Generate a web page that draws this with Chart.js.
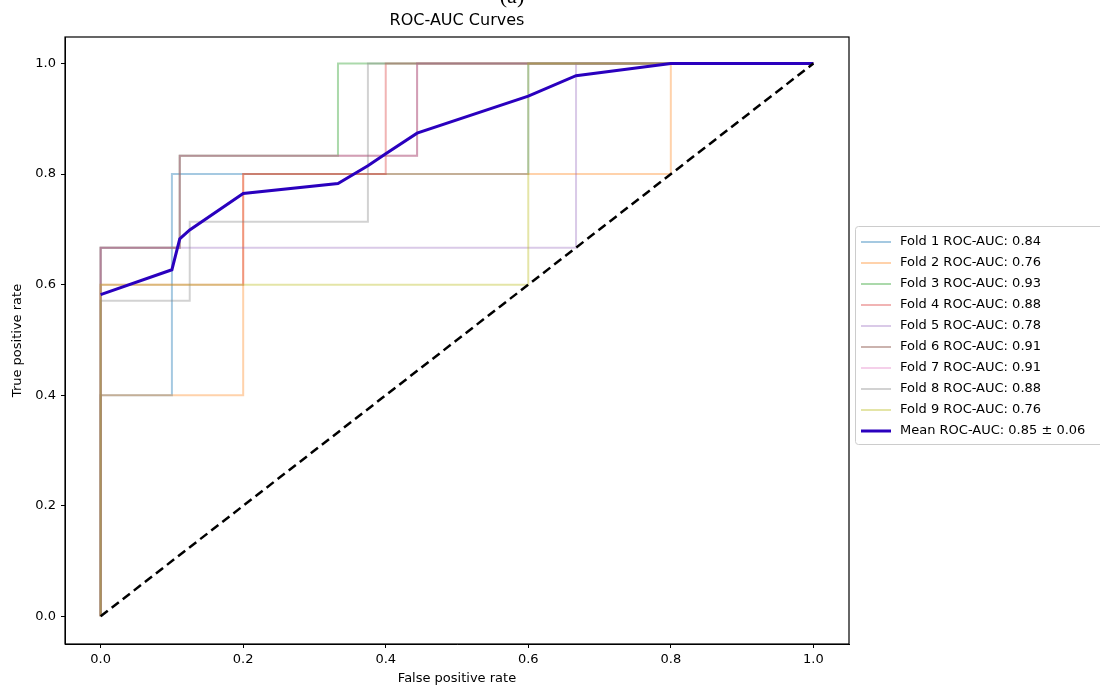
<!DOCTYPE html>
<html>
<head>
<meta charset="utf-8">
<script src="https://cdn.jsdelivr.net/npm/chart.js@4.4.1/dist/chart.umd.min.js"></script>
<style>
  html, body { margin: 0; padding: 0; background: #fff; }
</style>
</head>
<body>
<canvas id="roc" width="1100" height="689"></canvas>
<script>
// fold curves (false positive rate / true positive rate)
const fpr1 = [0, 0, 0.1, 0.1, 0.6, 0.6, 1];
const tpr1 = [0, 0.4, 0.4, 0.8, 0.8, 1, 1];
const fpr2 = [0, 0, 0.2, 0.2, 0.8, 0.8, 1];
const tpr2 = [0, 0.4, 0.4, 0.8, 0.8, 1, 1];
const fpr3 = [0, 0, 0.111, 0.111, 0.333, 0.333, 1];
const tpr3 = [0, 0.667, 0.667, 0.833, 0.833, 1, 1];
const fpr4 = [0, 0, 0.2, 0.2, 0.4, 0.4, 1];
const tpr4 = [0, 0.6, 0.6, 0.8, 0.8, 1, 1];
const fpr5 = [0, 0, 0.667, 0.667, 1];
const tpr5 = [0, 0.667, 0.667, 1, 1];
const fpr6 = [0, 0, 0.111, 0.111, 0.444, 0.444, 1];
const tpr6 = [0, 0.667, 0.667, 0.833, 0.833, 1, 1];
const fpr7 = [0, 0, 0.111, 0.111, 0.444, 0.444, 1];
const tpr7 = [0, 0.667, 0.667, 0.833, 0.833, 1, 1];
const fpr8 = [0, 0, 0.125, 0.125, 0.375, 0.375, 1];
const tpr8 = [0, 0.571, 0.571, 0.714, 0.714, 1, 1];
const fpr9 = [0, 0, 0.6, 0.6, 1];
const tpr9 = [0, 0.6, 0.6, 1, 1];

const foldAuc = [0.84, 0.76, 0.93, 0.88, 0.78, 0.91, 0.91, 0.88, 0.76];

const meanFpr = [0, 0.1, 0.111, 0.125, 0.2, 0.333, 0.375, 0.4, 0.444, 0.6, 0.667, 0.8, 1];
const meanTpr = [0.582, 0.627, 0.683, 0.699, 0.765, 0.783, 0.815, 0.837, 0.874, 0.941, 0.978, 1, 1];
const meanAuc = 0.85;
const stdAuc = 0.06;

const chanceLine = [0, 1];
const tickValues = [0, 0.2, 0.4, 0.6, 0.8, 1.0];

const foldColors = [
    'rgba(31,119,180,0.4)', 'rgba(255,127,14,0.35)', 'rgba(44,160,44,0.4)',
    'rgba(214,39,40,0.35)', 'rgba(148,103,189,0.35)', 'rgba(140,86,75,0.45)',
    'rgba(227,119,194,0.35)', 'rgba(127,127,127,0.35)', 'rgba(188,189,34,0.4)'
];

const foldFpr = [fpr1, fpr2, fpr3, fpr4, fpr5, fpr6, fpr7, fpr8, fpr9];
const foldTpr = [tpr1, tpr2, tpr3, tpr4, tpr5, tpr6, tpr7, tpr8, tpr9];

function pts(xs, ys) {
    return xs.map((x, i) => ({x: x, y: ys[i]}));
}

const datasets = foldFpr.map((f, i) => ({
    label: 'Fold ' + (i + 1) + ' ROC-AUC: ' + foldAuc[i].toFixed(2),
    data: pts(f, foldTpr[i]),
    borderColor: foldColors[i],
    borderWidth: 2,
    pointRadius: 0,
    order: 10 - i
}));
datasets.push({
    label: 'Mean ROC-AUC: ' + meanAuc.toFixed(2) + ' \u00b1 ' + stdAuc.toFixed(2),
    data: pts(meanFpr, meanTpr),
    borderColor: '#2a00be',
    borderWidth: 3,
    pointRadius: 0,
    order: 1
});
datasets.push({
    label: 'chance',
    data: pts(chanceLine, chanceLine),
    borderColor: '#000',
    borderWidth: 2.5,
    borderDash: [9, 5],
    pointRadius: 0,
    order: 0
});

const frameAndText = {
    id: 'frameAndText',
    afterDatasetsDraw(chart) {
        const ctx = chart.ctx;
        const a = chart.chartArea;
        ctx.save();
        ctx.strokeStyle = '#000';
        ctx.lineWidth = 1.2;
        ctx.strokeRect(a.left, a.top, a.right - a.left, a.bottom - a.top);
        ctx.restore();
    },
    afterDraw(chart) {
        const ctx = chart.ctx;
        const a = chart.chartArea;
        ctx.save();
        // title
        ctx.fillStyle = '#000';
        ctx.textAlign = 'center';
        ctx.textBaseline = 'middle';
        ctx.font = '16px "DejaVu Sans"';
        ctx.fillText('ROC-AUC Curves', (a.left + a.right) / 2, 21);
        ctx.font = '22px "Liberation Serif"';
        ctx.textBaseline = 'alphabetic';
        ctx.fillText('(a)', 512, 3);

        // legend box outside the axes
        const items = chart.data.datasets.slice(0, 10);
        const bx = 855, by = 226, bw = 260, bh = 218;
        ctx.strokeStyle = '#cccccc';
        ctx.lineWidth = 1;
        ctx.fillStyle = '#fff';
        ctx.beginPath();
        ctx.roundRect(bx + 0.5, by + 0.5, bw, bh, 3);
        ctx.fill();
        ctx.stroke();
        ctx.font = '13px "DejaVu Sans"';
        ctx.textAlign = 'left';
        ctx.textBaseline = 'middle';
        items.forEach((d, i) => {
            const y = by + 16 + i * 21;
            ctx.strokeStyle = d.borderColor;
            ctx.lineWidth = d.borderWidth;
            ctx.beginPath();
            ctx.moveTo(861, y);
            ctx.lineTo(891, y);
            ctx.stroke();
            ctx.fillStyle = '#000';
            ctx.fillText(d.label, 900, y);
        });
        ctx.restore();
    }
};

Chart.defaults.font.family = '"DejaVu Sans"';
Chart.defaults.color = '#000';

new Chart(document.getElementById('roc'), {
    type: 'line',
    data: { datasets: datasets },
    options: {
        responsive: false,
        animation: false,
        devicePixelRatio: 1,
        layout: { padding: { top: 37, right: 251, left: 0, bottom: 0 } },
        plugins: {
            legend: { display: false },
            tooltip: { enabled: false }
        },
        scales: {
            x: {
                type: 'linear',
                min: -0.05,
                max: 1.05,
                afterBuildTicks: s => { s.ticks = tickValues.map(v => ({value: v})); },
                afterFit: s => { s.height = 45; },
                ticks: { font: { size: 13 }, padding: 4, callback: v => v.toFixed(1) },
                grid: { drawOnChartArea: false, drawTicks: true, tickLength: 4, color: '#000' },
                border: { display: true, color: '#000' },
                title: { display: true, text: 'False positive rate', font: { size: 13 }, padding: { top: 0, bottom: 3 } }
            },
            y: {
                type: 'linear',
                min: -0.05,
                max: 1.048,
                afterBuildTicks: s => { s.ticks = tickValues.map(v => ({value: v})); },
                afterFit: s => { s.width = 65; },
                ticks: { font: { size: 13 }, padding: 5, callback: v => v.toFixed(1) },
                grid: { drawOnChartArea: false, drawTicks: true, tickLength: 4, color: '#000' },
                border: { display: true, color: '#000' },
                title: { display: true, text: 'True positive rate', font: { size: 13 }, padding: { top: 10, bottom: 0 } }
            }
        }
    },
    plugins: [frameAndText]
});
</script>
</body>
</html>
